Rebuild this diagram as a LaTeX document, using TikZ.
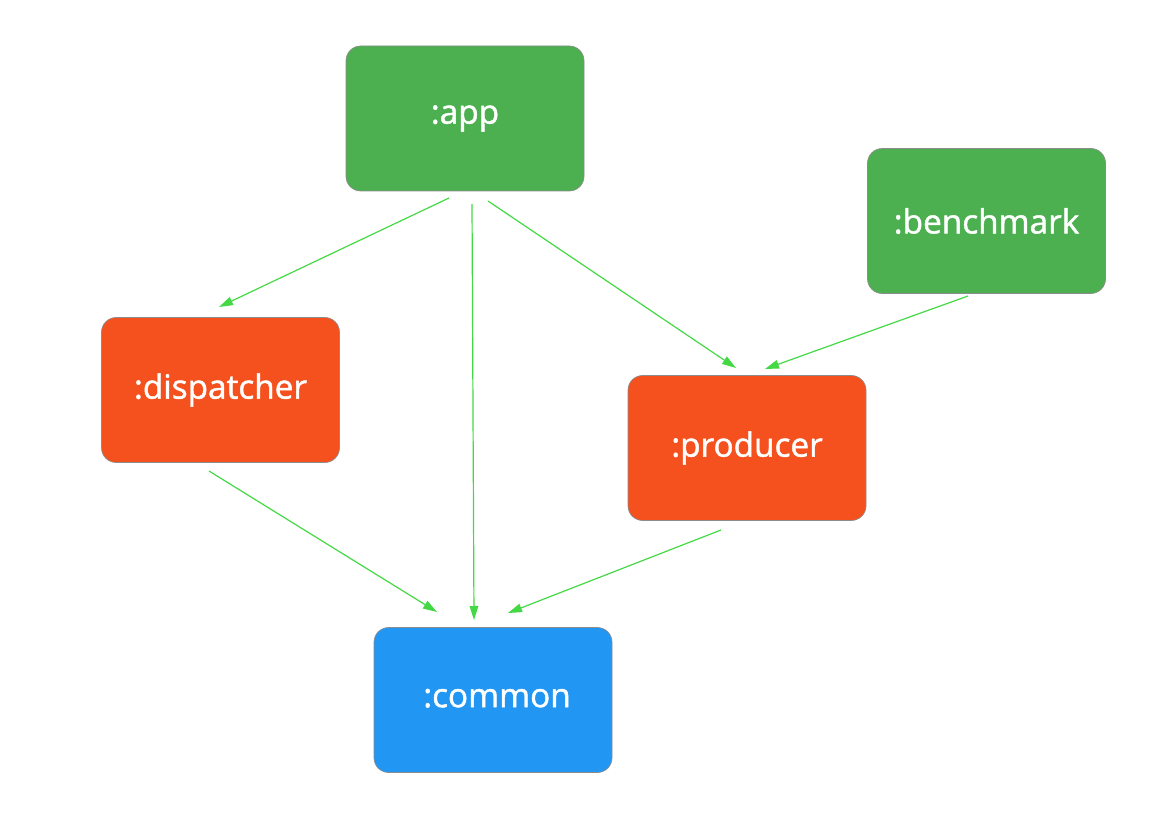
\documentclass[tikz,border=0pt]{standalone}
\usepackage{fontspec}
\setmainfont{Open Sans}
\newfontfamily\lblfont{Open Sans}[FakeBold=1.4]
\usetikzlibrary{arrows.meta}
\definecolor{gapp}{HTML}{4CAF50}
\definecolor{ored}{HTML}{F4511E}
\definecolor{bblue}{HTML}{2196F3}
\definecolor{edge}{HTML}{44D944}
\begin{document}
\begin{tikzpicture}[x=0.75pt,y=-0.75pt,
  mod/.style={draw=black!45,line width=0.5pt,rounded corners=11pt,minimum width=178.5pt,minimum height=108.75pt,inner sep=0pt,text=white,font=\lblfont\fontsize{25}{28}\selectfont},
  dep/.style={draw=edge,line width=0.9pt,-{Triangle[length=10.5pt,width=6.5pt]}}]
\useasboundingbox (0,0) rectangle (1169,827);
\node[mod,fill=gapp] (app) at (465,118.5) {\raisebox{3pt}{:app}};
\node[mod,fill=gapp] (bench) at (986.5,221) {\raisebox{0pt}{:benchmark}};
\node[mod,fill=ored] (disp) at (220.5,390) {:dispatcher};
\node[mod,fill=ored] (prod) at (747,448) {\raisebox{3pt}{:producer}};
\node[mod,fill=bblue] (common) at (493,700) {\raisebox{3pt}{\hspace{6pt}:common}};
\coordinate (a1) at (449,198);
\coordinate (a2) at (472,204);
\coordinate (a3) at (488,201);
\coordinate (b1) at (968,296);
\coordinate (d1) at (209,471);
\coordinate (p1) at (721,530);
\coordinate (dIn) at (219,307);
\coordinate (pInL) at (736,368);
\coordinate (pInR) at (765,369);
\coordinate (cInL) at (437,612);
\coordinate (cInM) at (474,620);
\coordinate (cInR) at (508,613);
\draw[dep] (a1) -- (dIn);
\draw[dep] (a2) -- (cInM);
\draw[dep] (a3) -- (pInL);
\draw[dep] (b1) -- (pInR);
\draw[dep] (d1) -- (cInL);
\draw[dep] (p1) -- (cInR);
\end{tikzpicture}
\end{document}
